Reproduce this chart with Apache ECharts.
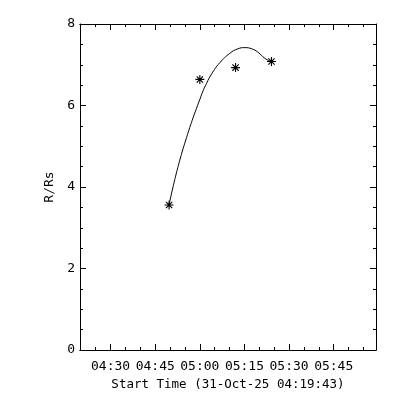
<!DOCTYPE html>
<html>
<head>
<meta charset="utf-8">
<script src="https://cdn.jsdelivr.net/npm/echarts@6/dist/echarts.min.js"></script>
<style>
html,body{margin:0;padding:0;background:#fff;}
#chart{width:400px;height:400px;}
</style>
</head>
<body>
<div id="chart"></div>
<script>
// ---- data (times as HH:MM:SS, values in R/Rs) ----
const startTime = '04:19:43';
const endTime = '05:59:13';
const pointTimes = ['04:49:40', '05:00:00', '05:12:00', '05:24:05'];
const pointR = [3.56, 6.64, 6.93, 7.08];
const curveTimes = ['04:49:40','04:51:01','04:52:09','04:53:16','04:54:22','04:55:31','04:56:37','04:57:44','04:58:53',
  '05:00:00','05:01:06','05:02:14','05:03:55','05:06:43','05:10:04','05:12:46','05:15:07','05:17:28','05:19:29','05:21:50','05:24:05'];
const curveR = [3.57, 4.01, 4.35, 4.66, 4.94, 5.21, 5.46, 5.70, 5.93,
  6.15, 6.36, 6.54, 6.77, 7.05, 7.28, 7.39, 7.42, 7.39, 7.31, 7.16, 7.07];
const xMajorTicks = ['04:30', '04:45', '05:00', '05:15', '05:30', '05:45'];
const xMinorTicks = ['04:25', '04:35', '04:40', '04:50', '04:55', '05:05', '05:10', '05:20', '05:25', '05:35', '05:40', '05:50', '05:55'];
const xTitle = 'Start Time (31-Oct-25 04:19:43)';
const yTitle = 'R/Rs';

function toMin(s) {
  const p = s.split(':').map(Number);
  return p[0] * 60 + p[1] + (p[2] || 0) / 60;
}
function fmt(v) {
  const m = Math.round(v);
  const h = Math.floor(m / 60), mm = m % 60;
  return String(h).padStart(2, '0') + ':' + String(mm).padStart(2, '0');
}

const xMin = toMin(startTime), xMax = toMin(endTime);
const majorVals = xMajorTicks.map(toMin);
const minorVals = xMinorTicks.map(toMin);
const font = 'DejaVu Sans Mono';
const black = '#000';

function xAx(position, vals, len, showLabel, extra) {
  return Object.assign({
    type: 'value', position: position, min: xMin, max: xMax,
    axisLine: { show: true, onZero: false, lineStyle: { color: black, width: 1 } },
    axisTick: { show: true, inside: true, length: len, customValues: vals, lineStyle: { color: black } },
    axisLabel: showLabel ? { show: true, customValues: vals, formatter: fmt, color: black, fontFamily: font, fontSize: 13, margin: 10 } : { show: false },
    splitLine: { show: false }
  }, extra || {});
}
function yAx(position, showLabel, extra) {
  return Object.assign({
    type: 'value', position: position, min: 0, max: 8, interval: 2,
    axisLine: { show: true, onZero: false, lineStyle: { color: black, width: 1 } },
    axisTick: { show: true, inside: true, length: 6, lineStyle: { color: black } },
    minorTick: { show: true, splitNumber: 4, length: 3, lineStyle: { color: black } },
    axisLabel: showLabel ? { show: true, color: black, fontFamily: font, fontSize: 13, margin: 5 } : { show: false },
    splitLine: { show: false }, minorSplitLine: { show: false }
  }, extra || {});
}

const chart = echarts.init(document.getElementById('chart'), null, { renderer: 'canvas' });
chart.setOption({
  backgroundColor: '#fff',
  animation: false,
  grid: { left: 80, right: 24, top: 24, bottom: 50, containLabel: false },
  xAxis: [
    xAx('bottom', majorVals, 6, true, {
      name: xTitle, nameLocation: 'middle', nameGap: 26,
      nameTextStyle: { color: black, fontFamily: font, fontSize: 12.5 }
    }),
    xAx('bottom', minorVals, 3, false),
    xAx('top', majorVals, 6, false),
    xAx('top', minorVals, 3, false)
  ],
  yAxis: [
    yAx('left', true, {
      name: yTitle, nameLocation: 'middle', nameGap: 24,
      nameTextStyle: { color: black, fontFamily: font, fontSize: 13 }
    }),
    yAx('right', false)
  ],
  series: [
    {
      type: 'line', xAxisIndex: 0, yAxisIndex: 0,
      data: curveTimes.map((t, i) => [toMin(t), curveR[i]]),
      showSymbol: false, smooth: true,
      lineStyle: { color: black, width: 1 }
    },
    {
      type: 'scatter', xAxisIndex: 0, yAxisIndex: 0,
      data: pointTimes.map((t, i) => [toMin(t), pointR[i]]),
      symbol: 'path://M0,-10L0,10M-10,0L10,0M-7,-7L7,7M-7,7L7,-7',
      symbolSize: 9,
      itemStyle: { color: 'none', borderColor: black, borderWidth: 1.1, opacity: 1 }
    }
  ]
});
</script>
</body>
</html>
